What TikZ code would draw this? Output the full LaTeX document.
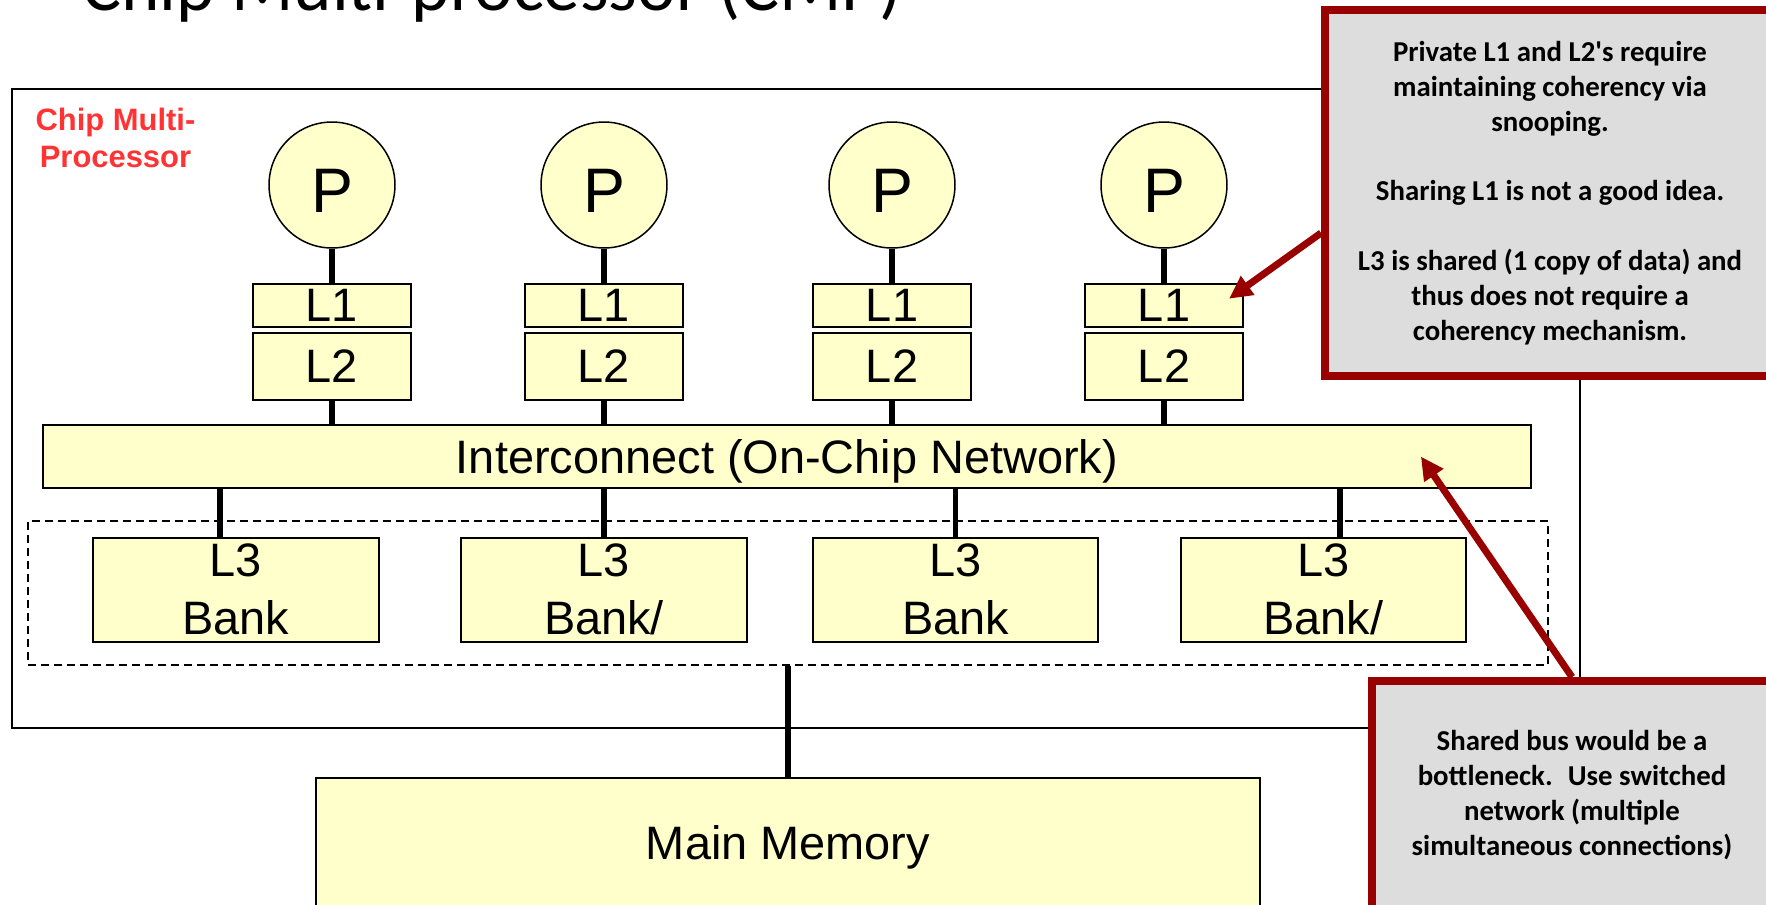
\documentclass[tikz,border=0pt]{standalone}
\usepackage{fontspec}
\setmainfont{Liberation Sans}
\newfontfamily\notefont{Carlito}
\usetikzlibrary{positioning,arrows.meta,shadows}

\definecolor{cellfill}{HTML}{FFFFCC}
\definecolor{notefill}{HTML}{DDDDDD}
\definecolor{noteedge}{HTML}{990000}
\definecolor{chipred}{HTML}{FF3333}

\begin{document}
\begin{tikzpicture}[x=0.02cm, y=-0.02cm, node distance=0.68cm,
    cell/.style={draw, fill=cellfill, line width=0.04cm, inner sep=0pt, align=center,
      font=\fontsize{26.7}{33}\selectfont},
    proc/.style={circle, draw, fill=cellfill, line width=0.03cm, minimum size=2.52cm,
      inner sep=0pt, text height=1.1cm, font=\fontsize{35.8}{40}\selectfont},
    link/.style={line width=0.11cm},
    note/.style={draw=noteedge, fill=notefill, line width=0.16cm, align=center, inner sep=0pt,
      font=\notefont\bfseries\fontsize{16.4}{19.8}\selectfont,
      drop shadow={shadow xshift=0.04cm, shadow yshift=-0.08cm, opacity=0.25}},
    pointer/.style={draw=noteedge, line width=0.14cm, -{Triangle[length=0.46cm, width=0.44cm]}}]

  \useasboundingbox (0,0) rectangle (1766,904);
  \clip (0,0) rectangle (1766,904);

  \node[anchor=base west, font=\notefont\fontsize{41.6}{48}\selectfont] (title) at (76,10) {Chip Multi-processor (CMP)};

  \node[draw, line width=0.04cm, minimum width=31.36cm, minimum height=12.78cm] (chip) at (796,408.5) {};
  \node[text=chipred, align=center, font=\bfseries\fontsize{17.6}{21}\selectfont] (chiplabel) at (115.5,137.5) {Chip Multi-\\Processor};

  \foreach \i/\x in {1/332,2/604,3/892,4/1164} {
    \node[proc] (P\i) at (\x,185) {P};
    \node[cell, minimum width=3.16cm, minimum height=0.86cm, below=of P\i] (Lone\i) {L1};
    \node[cell, minimum width=3.16cm, minimum height=1.34cm, below=0.08cm of Lone\i] (Ltwo\i) {L2};
    \draw[link] (P\i) -- (Lone\i);
  }

  \node[cell, minimum width=29.76cm, minimum height=1.26cm, text depth=0pt] (net) at (787,456.5) {Interconnect (On-Chip Network)};
  \foreach \i in {1,...,4}
    \draw[link] (Ltwo\i.south) -- (Ltwo\i.south |- net.north);

  \node[draw, dash pattern=on 0.16cm off 0.1cm, line width=0.03cm, minimum width=30.4cm, minimum height=2.88cm] (shared) at (788,593) {};
  \node[cell, minimum width=5.72cm, minimum height=2.08cm] (bank1) at (236,589.5) {L3\\Bank};
  \node[cell, minimum width=5.72cm, minimum height=2.08cm] (bank2) at (604,589.5) {L3\\Bank/};
  \node[cell, minimum width=5.72cm, minimum height=2.08cm] (bank3) at (955.5,589.5) {L3\\Bank};
  \node[cell, minimum width=5.72cm, minimum height=2.08cm] (bank4) at (1323.5,589.5) {L3\\Bank/};

  \coordinate (tap1) at ([xshift=-0.32cm]bank1.north);
  \coordinate (tap2) at (bank2.north);
  \coordinate (tap3) at (bank3.north);
  \coordinate (tap4) at ([xshift=0.33cm]bank4.north);
  \foreach \i in {1,...,4}
    \draw[link] (tap\i |- net.south) -- (tap\i);

  \node[cell, minimum width=18.88cm, minimum height=2.56cm, text depth=0pt] (mem) at (788,842) {Main Memory};
  \draw[link] (shared.south) -- (mem.north);

  \node[note, minimum width=9cm, minimum height=7.32cm] (noteA) at (1550,193)
    {Private L1 and L2's require\\maintaining coherency via\\snooping.\\[0.7cm]Sharing L1 is not a good idea.\\[0.7cm]L3 is shared (1 copy of data) and\\thus does not require a\\coherency mechanism.};
  \node[note, minimum width=8cm, minimum height=4.56cm] (noteB) at (1572,795)
    {Shared bus would be a\\bottleneck.~ Use switched\\network (multiple\\simultaneous connections)};

  \coordinate (hitL1) at ([xshift=-0.3cm, yshift=0.13cm]Lone4.east);
  \coordinate (hitNet) at ([xshift=-2.22cm]net.east);
  \draw[pointer] ([yshift=-0.8cm]noteA.west) -- (hitL1);
  \draw[pointer] (noteB.north) -- (hitNet);
\end{tikzpicture}
\end{document}
